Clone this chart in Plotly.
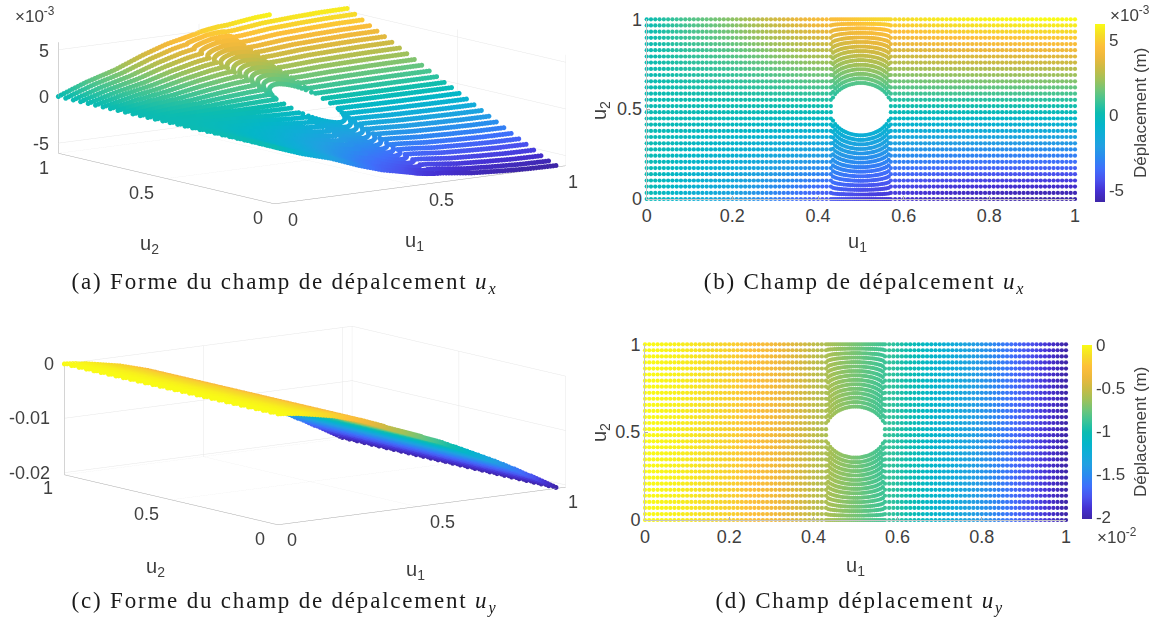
import plotly.graph_objects as go

W, H = 1164, 624

# ---- data ----
U1_LEFT = [0.00,0.01,0.02,0.03,0.04,0.05,0.06,0.07,0.08,0.09,0.10,0.11,0.12,0.13,0.14,0.15,0.16,0.17,0.18,0.19,
           0.20,0.21,0.22,0.23,0.24,0.25,0.26,0.27,0.28,0.29,0.30,0.31,0.32,0.33,0.34,0.35,0.36,0.37,0.38,0.39,
           0.40,0.41,0.42]
U1_HOLE = [0.430,0.435,0.440,0.445,0.450,0.455,0.460,0.465,0.470,0.475,0.480,0.485,0.490,0.495,0.500,
           0.505,0.510,0.515,0.520,0.525,0.530,0.535,0.540,0.545,0.550,0.555,0.560,0.565,0.570]
U1_RIGHT = [0.58,0.59,0.60,0.61,0.62,0.63,0.64,0.65,0.66,0.67,0.68,0.69,0.70,0.71,0.72,0.73,0.74,0.75,0.76,0.77,
            0.78,0.79,0.80,0.81,0.82,0.83,0.84,0.85,0.86,0.87,0.88,0.89,0.90,0.91,0.92,0.93,0.94,0.95,0.96,0.97,
            0.98,0.99,1.00]
# upper outline of the hole, at each U1_HOLE column
HOLE_EDGE_U2 = [.500,.549,.569,.582,.593,.602,.609,.615,.620,.624,.627,.630,.632,.633,.633,
                .633,.632,.630,.627,.624,.620,.615,.609,.602,.593,.582,.569,.549,.500]
ROW_U2 = [1.000,.966,.931,.897,.862,.828,.793,.759,.724,.690,.655,.621,.586,.552,.517,
          .483,.448,.414,.379,.345,.310,.276,.241,.207,.172,.138,.103,.069,.034,.000]
# ux at the top edge (x 1e-3) along U1, and its fraction on each row
UX_TOP = [0,.12,.24,.36,.47,.59,.70,.81,.93,1.04,1.15,1.24,1.33,1.42,1.51,1.60,1.69,1.78,1.87,1.96,
          2.05,2.17,2.29,2.41,2.53,2.65,2.77,2.89,3.01,3.13,3.25,3.35,3.45,3.55,3.65,3.75,3.85,3.95,4.05,4.13,
          4.20,4.27,4.33,
          4.39,4.42,4.46,4.49,4.53,4.56,4.60,4.63,4.67,4.70,4.74,4.77,4.81,4.85,4.90,4.94,4.97,5.00,5.02,5.05,
          5.07,5.10,5.12,5.14,5.16,5.18,5.20,5.22,5.24,
          5.26,5.28,5.30,5.34,5.38,5.42,5.46,5.50,5.54,5.58,5.62,5.66,5.70,5.72,5.74,5.76,5.78,5.80,5.82,5.84,
          5.86,5.88,5.90,5.92,5.93,5.95,5.96,5.98,5.99,6.01,6.02,6.04,6.05,6.06,6.06,6.07,6.07,6.08,6.08,6.09,
          6.09,6.10,6.10]
UX_ROW = [1.00,.93,.86,.79,.72,.655,.59,.52,.45,.38,.31,.24,.17,.10,.03,
          -.03,-.10,-.17,-.24,-.31,-.38,-.45,-.52,-.59,-.655,-.72,-.79,-.86,-.92,-.97]
# uy (x 1e-2) along U1
UY = [0,-.005,-.01,-.015,-.02,-.03,-.035,-.04,-.05,-.06,-.07,-.08,-.09,-.10,-.11,-.12,-.13,-.14,-.15,-.16,
      -.17,-.185,-.20,-.215,-.23,-.245,-.26,-.275,-.29,-.305,-.32,-.34,-.36,-.38,-.40,-.42,-.44,-.46,-.48,-.51,
      -.53,-.55,-.57,
      -.59,-.60,-.61,-.62,-.63,-.64,-.65,-.66,-.67,-.68,-.69,-.70,-.71,-.72,-.73,-.74,-.75,-.76,-.78,-.79,
      -.80,-.81,-.82,-.83,-.84,-.85,-.86,-.87,-.88,
      -.90,-.92,-.95,-.97,-1.00,-1.02,-1.04,-1.07,-1.09,-1.12,-1.14,-1.17,-1.19,-1.22,-1.24,-1.27,-1.29,-1.32,-1.34,-1.37,
      -1.39,-1.42,-1.45,-1.47,-1.50,-1.53,-1.56,-1.58,-1.61,-1.64,-1.67,-1.70,-1.73,-1.75,-1.78,-1.81,-1.84,-1.87,-1.90,-1.93,
      -1.96,-1.99,-2.02]

PARULA = [[0,'#3e26a8'],[.0625,'#4530d2'],[.125,'#4a52ee'],[.1875,'#3f6ffb'],[.25,'#2b8af0'],[.3125,'#229fe2'],
          [.375,'#10acd8'],[.4375,'#04b6c8'],[.5,'#0cbcb0'],[.5625,'#3bc397'],[.625,'#6dc57b'],[.6875,'#a0c15a'],
          [.75,'#c9bb45'],[.8125,'#ecb83c'],[.875,'#fdbf3a'],[.9375,'#f6dc28'],[1,'#f9fb15']]
INK = '#404040'
SANS = 'Liberation Sans'

# ---- mesh built from the arrays above ----
U1_ALL = U1_LEFT + U1_HOLE + U1_RIGHT
EDGE = [None]*len(U1_LEFT) + HOLE_EDGE_U2 + [None]*len(U1_RIGHT)
X, Y, ZX, ZY = [], [], [], []
for r, row in enumerate(ROW_U2):
    for c, u in enumerate(U1_ALL):
        y = row
        frac = UX_ROW[r]
        if EDGE[c] is not None:
            if row > .5:
                y = 1 - (1 - row) / .5 * (1 - EDGE[c])
            else:
                y = row / .5 * (1 - EDGE[c])
            frac = UX_ROW[r] * (2 * y - 1) / (2 * row - 1)
        X.append(u); Y.append(y)
        ZX.append(UX_TOP[c] * frac); ZY.append(UY[c])
ZY_M = [v * .01 for v in ZY]

fig = go.Figure()

def box(x0, x1, ytop, ybot):
    return dict(x=[x0 / W, x1 / W], y=[1 - ybot / H, 1 - ytop / H])

def cb(x, top, length, vals, text):
    return dict(x=x / W, xanchor='left', y=1 - top / H, yanchor='top', xpad=0, ypad=0, thickness=10, thicknessmode='pixels',
                len=length, lenmode='pixels', outlinewidth=0, ticks='', tickvals=vals, ticktext=text,
                tickfont=dict(family=SANS, size=17, color=INK), ticklabelposition='outside')

fig.add_trace(go.Scatter(x=X, y=Y, mode='markers', xaxis='x', yaxis='y', cliponaxis=False,
    marker=dict(size=4.2, color=ZX, colorscale=PARULA, cmin=-5.85, cmax=6.05, line_width=0,
                colorbar=cb(1095, 24.3, 178.4, [-5, 0, 5], ['-5', '0', '5']))))
fig.add_trace(go.Scatter(x=X, y=Y, mode='markers', xaxis='x2', yaxis='y2', cliponaxis=False,
    marker=dict(size=4.2, color=ZY, colorscale=PARULA, cmin=-2.02, cmax=0, line_width=0,
                colorbar=cb(1082, 345, 174.3, [-2, -1.5, -1, -.5, 0], ['-2', '-1.5', '-1', '-0.5', '0']))))
fig.add_trace(go.Scatter3d(x=X, y=Y, z=ZX, mode='markers', scene='scene', showlegend=False,
    marker=dict(size=2.9, color=ZX, colorscale=PARULA, cmin=-5.85, cmax=6.05, line_width=0, showscale=False)))
fig.add_trace(go.Scatter3d(x=X, y=Y, z=ZY_M, mode='markers', scene='scene2', showlegend=False,
    marker=dict(size=2.9, color=ZY, colorscale=PARULA, cmin=-2.02, cmax=0, line_width=0, showscale=False)))

def ax2d(dom, vals, text, anchor):
    return dict(domain=dom, range=[0, 1], tickvals=vals, ticktext=text, ticks='inside', ticklen=3, tickcolor='#b0b0b0',
                showgrid=False, zeroline=False, showline=True, linecolor='#c4c4c4', anchor=anchor,
                tickfont=dict(family=SANS, size=18, color=INK))

XT = [0, .2, .4, .6, .8, 1]; XTT = ['0', '0.2', '0.4', '0.6', '0.8', '1']
YT = [0, .5, 1]; YTT = ['0', '0.5', '1']
b = box(646.7, 1075, 19.3, 199)
d = box(645, 1066, 344.3, 520)

def ax3d(vals):
    return dict(tickvals=vals, showticklabels=False, showgrid=True, gridcolor='#e6e6e6', gridwidth=1, showbackground=False,
                showline=True, linecolor='#a8a8a8', linewidth=1, zeroline=False, showspikes=False, title='', ticks='')

def label(x, y, z, text, dx, dy):
    return dict(x=x, y=y, z=z, text=text, showarrow=False, xshift=dx, yshift=-dy,
                font=dict(family=SANS, size=18, color=INK), xanchor='center', yanchor='middle')

EYE_DIST = 3

def scene(dom, zvals, zrange, center_z, labels, k):
    return dict(domain=dom,
                xaxis=dict(ax3d(YT), range=[0, 1.035]),
                yaxis=dict(ax3d(YT), range=[0, 1]),
                zaxis=dict(ax3d(zvals), range=zrange),
                aspectmode='manual', aspectratio=dict(x=2.71 * k, y=2.69 * k, z=.835),
                camera=dict(projection=dict(type='orthographic'), up=dict(x=0, y=0, z=1),
                            center=dict(x=0, y=0, z=center_z),
                            eye=dict(x=-.59 * EYE_DIST, y=-.789 * EYE_DIST, z=center_z + .175 * EYE_DIST)),
                annotations=labels, bgcolor='white')

ZMIN_A, ZMIN_C = -6.09, -.0204
LABELS_A = [label(0, 0, ZMIN_A, '0', 19, 16), label(.5, 0, ZMIN_A, '0.5', 26, 15), label(1, 0, ZMIN_A, '1', 17, 15),
            label(0, 0, ZMIN_A, '0', -16, 14), label(0, .5, ZMIN_A, '0.5', -25, 14), label(0, 1, ZMIN_A, '1', -14, 15),
            label(0, 1, 5, '5', -14, 1), label(0, 1, 0, '0', -14, 1), label(0, 1, -5, '-5', -17, 1)]
LABELS_C = [label(0, 0, ZMIN_C, '0', 14, 15), label(.5, 0, ZMIN_C, '0.5', 26, 15), label(1, 0, ZMIN_C, '1', 17, 14),
            label(0, 0, ZMIN_C, '0', -18, 14), label(0, .5, ZMIN_C, '0.5', -25, 14), label(0, 1, ZMIN_C, '1', -16, 13),
            label(0, 1, 0, '0', -15, 0), label(0, 1, -.01, '-0.01', -35, 0), label(0, 1, -.02, '-0.02', -35, 0)]

def note(x, y, text, size=18, family=SANS, angle=0, color=INK):
    return dict(x=x / W, y=1 - y / H, xref='paper', yref='paper', text=text, showarrow=False, textangle=angle,
                xanchor='center', yanchor='middle', font=dict(family=family, size=size, color=color))

SERIF = 'Liberation Serif'
CAP = '#1a1a1a'
U = 20
ann = [
    note(857, 243, 'u<sub>1</sub>', U), note(600, 110, 'u<sub>2</sub>', U, angle=-90),
    note(855, 566, 'u<sub>1</sub>', U), note(600, 432, 'u<sub>2</sub>', U, angle=-90),
    note(150, 245, 'u<sub>2</sub>', U), note(414, 242, 'u<sub>1</sub>', U),
    note(155, 567, 'u<sub>2</sub>', U), note(415, 570, 'u<sub>1</sub>', U),
    note(35, 15, '×10<sup>-3</sup>', size=17), note(1130, 14, '×10<sup>-3</sup>', size=17),
    note(1117, 536, '×10<sup>-2</sup>', size=17),
    note(1140, 113, 'Déplacement (m)', size=17, angle=-90), note(1140, 432, 'Déplacement (m)', size=17, angle=-90),
    note(285, 283, '(a) Forme du champ de dépalcement <i>u<sub>x</sub></i>', size=23, family=SERIF, color=CAP),
    note(865, 283, '(b) Champ de dépalcement <i>u<sub>x</sub></i>', size=23, family=SERIF, color=CAP),
    note(285, 602, '(c) Forme du champ de dépalcement <i>u<sub>y</sub></i>', size=23, family=SERIF, color=CAP),
    note(860, 602, '(d) Champ déplacement <i>u<sub>y</sub></i>', size=23, family=SERIF, color=CAP),
]

fig.update_layout(
    width=W, height=H, autosize=False, margin=dict(l=0, r=0, t=0, b=0, autoexpand=False), showlegend=False,
    paper_bgcolor='white', plot_bgcolor='white', annotations=ann,
    xaxis=ax2d(b['x'], XT, XTT, 'y'), yaxis=ax2d(b['y'], YT, YTT, 'x'),
    xaxis2=ax2d(d['x'], XT, XTT, 'y2'), yaxis2=ax2d(d['y'], YT, YTT, 'x2'),
    scene=scene(box(12, 612, 0, 270), [-5, 0, 5], [ZMIN_A, 5.8], -.233, LABELS_A, .994),
    scene2=scene(box(15, 615, 320, 590), [-.02, -.01, 0], [ZMIN_C, 0], -.222, LABELS_C, .982),
)
POST = """document.body.style.margin='0';document.body.style.overflow='hidden';
document.querySelectorAll('.annotation-text').forEach(function(t){
  if(t.textContent.charAt(0)==='('){t.style.letterSpacing='1.8px';}
});"""
fig.write_html('out.html', post_script=POST, config={'displayModeBar': False})
